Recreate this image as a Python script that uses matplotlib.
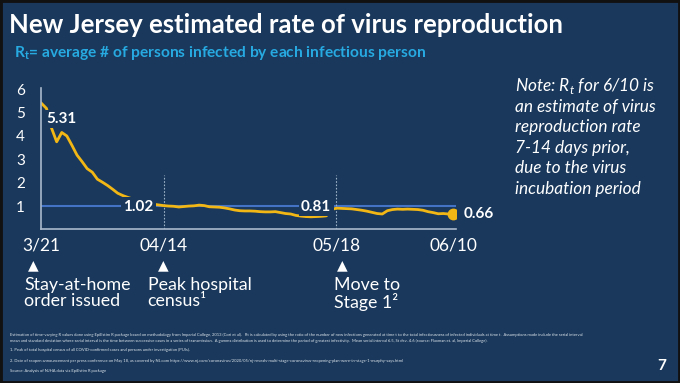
import pandas as pd
import matplotlib.pyplot as plt
from matplotlib.patches import Rectangle

# daily Rt estimates, 3/21 .. 6/10
dates = pd.date_range("2020-03-21", "2020-06-10", freq="D")
rt = [5.40, 5.18, 4.33, 3.75, 4.15, 4.00, 3.60, 3.18, 2.90, 2.60,
      2.45, 2.15, 2.02, 1.88, 1.72, 1.55, 1.45, 1.37, 1.30, 1.24,
      1.18, 1.12, 1.08, 1.05, 1.02, 1.00, 0.99, 0.96, 0.98, 1.00,
      1.01, 1.04, 1.02, 0.97, 0.96, 0.95, 0.92, 0.88, 0.83, 0.80,
      0.79, 0.79, 0.78, 0.76, 0.75, 0.75, 0.76, 0.72, 0.68, 0.66,
      0.60, 0.57, 0.55, 0.54, 0.55, 0.56, 0.58, 0.85, 0.91, 0.90,
      0.89, 0.88, 0.85, 0.82, 0.78, 0.73, 0.68, 0.66, 0.80, 0.85,
      0.87, 0.86, 0.87, 0.86, 0.85, 0.82, 0.76, 0.72, 0.67, 0.68,
      0.66, 0.66]

tick_dates = ["2020-03-21", "2020-04-14", "2020-05-18", "2020-06-10"]
tick_labels = ["3/21", "04/14", "05/18", "06/10"]
event_dates = ["2020-04-14", "2020-05-18"]

callouts = [("5.31", "2020-03-25", 4.72, "center"),
            ("1.02", "2020-04-09", 0.97, "center"),
            ("0.81", "2020-05-14", 0.97, "center"),
            ("0.66", "2020-06-12", 0.66, "left")]

events = ["Stay-at-home\norder issued", "Peak hospital\ncensus\u00b9", "Move to\nStage 1\u00b2"]

note_lines = ["Note: R$_\\mathregular{t}$ for 6/10 is", "an estimate of virus",
              "reproduction rate", "7-14 days prior,", "due to the virus",
              "incubation period"]

footnotes = [
    "Estimation of time-varying R values done using EpiEstim R package based on methodology from Imperial College, 2013 (Cori et al).   Rt is calculated by using the ratio of the number of new infections generated at time t to the total infectiousness of infected individuals at time t.  Assumptions made include the serial interval",
    "mean and standard deviation where serial interval is the time between successive cases in a series of transmission.  A gamma distribution is used to determine the period of greatest infectivity.  Mean serial interval 6.5, St dev. 4.6 (source: Flaxman et. al, Imperial College).",
    "1. Peak of total hospital census of all COVID-confirmed cases and persons under investigation (PUIs).",
    "2. Date of reopen announcement per press conference on May 18, as covered by NJ.com https://www.nj.com/coronavirus/2020/05/nj-reveals-multi-stage-coronavirus-reopening-plan-were-in-stage-1-murphy-says.html",
    "Source: Analysis of NJHA data via EpiEstim R package",
]

BG = "#19385b"
GOLD = "#f3b715"
plt.rcParams["font.family"] = ["Lato", "DejaVu Sans"]

fig = plt.figure(figsize=(6.8, 3.83), dpi=100, facecolor=BG)
ax = fig.add_axes([0.0609, 0.401, 0.609, 0.369])
ax.set_facecolor(BG)

start, end = pd.Timestamp(dates[0]), pd.Timestamp(dates[-1])
ax.axhline(1, color="#4472c4", lw=1.5, zorder=1)
for d in event_dates:
    ax.plot([pd.Timestamp(d)] * 2, [0, 2.35], color="#9fb3c8", lw=0.8, ls=(0, (1.5, 1.5)), zorder=1)
ax.plot(dates, rt, color=GOLD, lw=2.0, zorder=2)
ax.plot(dates[-1], rt[-1], "o", color=GOLD, ms=7.5, zorder=3)

for txt, d, y, ha in callouts:
    ax.text(pd.Timestamp(d), y, txt, color="white", fontsize=11, fontweight="bold",
            ha=ha, va="center", zorder=4,
            bbox=dict(boxstyle="square,pad=0.15", fc=BG, ec="none"))

ax.set_xlim(start, end + pd.Timedelta(days=0.4))
ax.set_ylim(0, 6.05)
ax.set_yticks([1, 2, 3, 4, 5, 6])
ax.set_xticks([pd.Timestamp(d) for d in tick_dates])
ax.set_xticklabels(tick_labels)
ax.tick_params(axis="both", length=0, colors="white")
ax.tick_params(axis="y", pad=12, labelsize=11)
ax.tick_params(axis="x", pad=6, labelsize=12.5)
for s in ["top", "right"]:
    ax.spines[s].set_visible(False)
for s in ["left", "bottom"]:
    ax.spines[s].set_color("#a9b9cc")
    ax.spines[s].set_linewidth(1.2)

# titles
fig.text(0.013, 0.913, "New Jersey estimated rate of virus reproduction", color="white",
         fontsize=18.5, fontweight="bold", va="baseline")
fig.text(0.021, 0.851, "R$_\\mathregular{t}$= average # of persons infected by each infectious person",
         color="#27aae1", fontsize=11.2, fontweight="bold", va="baseline")

# side note
for i, line in enumerate(note_lines):
    fig.text(0.757, 0.775 - i * 0.0535, line, color="white", fontsize=12.4, style="italic", va="center")

# event markers under the axis
tri_x = [0.049, 0.240, 0.504]
lab_x = [0.036, 0.217, 0.491]
for tx, lx, lab in zip(tri_x, lab_x, events):
    fig.text(tx, 0.307, "\u25b2", color="white", fontsize=10, ha="center", va="center",
             family="DejaVu Sans")
    fig.text(lx, 0.278, lab, color="white", fontsize=12.8, va="top", linespacing=1.05)

fy = [0.125, 0.11, 0.086, 0.058, 0.032]
for y, line in zip(fy, footnotes):
    fig.text(0.015, y, line, color="#dde4ec", fontsize=3.0, va="center")

fig.text(0.979, 0.045, "7", color="white", fontsize=11, fontweight="bold", ha="right", va="center")

fig.patches.append(Rectangle((0, 0), 1, 1, transform=fig.transFigure, fill=False,
                             ec="#111111", lw=3.5))

fig.savefig("out.png", dpi=100, facecolor=fig.get_facecolor())
